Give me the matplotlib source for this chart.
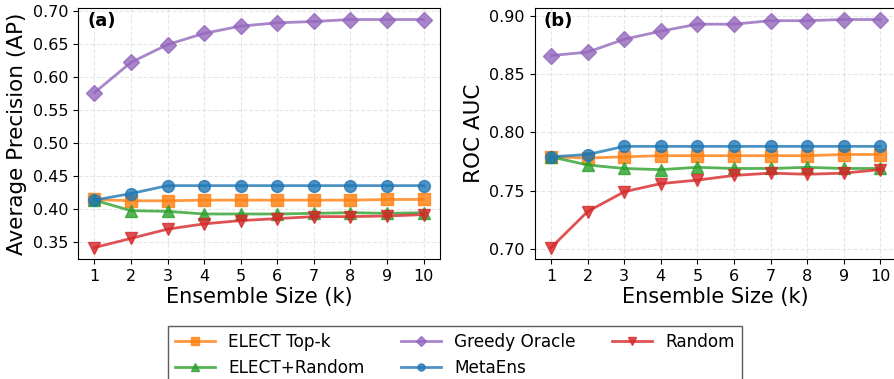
import numpy as np
import matplotlib
matplotlib.use("Agg")
import matplotlib.pyplot as plt
from matplotlib.ticker import MultipleLocator, FormatStrFormatter

k = np.arange(1, 11)

# panel (a): Average Precision
ap_topk = [0.414, 0.412, 0.412, 0.413, 0.413, 0.413, 0.413, 0.413, 0.414, 0.414]
ap_elect_rand = [0.413, 0.397, 0.396, 0.392, 0.392, 0.392, 0.393, 0.394, 0.393, 0.394]
ap_greedy = [0.576, 0.622, 0.649, 0.666, 0.677, 0.682, 0.684, 0.687, 0.687, 0.687]
ap_metaens = [0.413, 0.423, 0.435, 0.435, 0.435, 0.435, 0.435, 0.435, 0.435, 0.435]
ap_random = [0.341, 0.355, 0.369, 0.377, 0.382, 0.385, 0.388, 0.388, 0.389, 0.391]

# panel (b): ROC AUC
auc_topk = [0.779, 0.778, 0.779, 0.780, 0.780, 0.780, 0.780, 0.780, 0.781, 0.781]
auc_elect_rand = [0.779, 0.772, 0.769, 0.768, 0.770, 0.769, 0.769, 0.770, 0.769, 0.769]
auc_greedy = [0.866, 0.869, 0.880, 0.887, 0.893, 0.893, 0.896, 0.896, 0.897, 0.897]
auc_metaens = [0.779, 0.781, 0.788, 0.788, 0.788, 0.788, 0.788, 0.788, 0.788, 0.788]
auc_random = [0.701, 0.732, 0.749, 0.756, 0.759, 0.763, 0.765, 0.764, 0.765, 0.768]

labels = ["ELECT Top-k", "ELECT+Random", "Greedy Oracle", "MetaEns", "Random"]
colors = ["#ff7f0e", "#2ca02c", "#9467bd", "#1f77b4", "#d62728"]
markers = ["s", "^", "D", "o", "v"]

fig = plt.figure(figsize=(8.94, 3.79), dpi=100)
ax_a = fig.add_axes([0.0872, 0.3166, 0.405, 0.662])
ax_b = fig.add_axes([0.598, 0.3166, 0.405, 0.662])

panels = [
    (ax_a, [ap_topk, ap_elect_rand, ap_greedy, ap_metaens, ap_random],
     "Average Precision (AP)", "(a)", 0.05),
    (ax_b, [auc_topk, auc_elect_rand, auc_greedy, auc_metaens, auc_random],
     "ROC AUC", "(b)", 0.05),
]

handles = []
for ax, series, ylabel, tag, step in panels:
    hs = []
    for vals, lab, c, m in zip(series, labels, colors, markers):
        h, = ax.plot(k, vals, color=c, marker=m, markersize=8.5, linewidth=2,
                     alpha=0.8, label=lab)
        hs.append(h)
    handles = hs
    ax.set_xticks(k)
    ax.yaxis.set_major_locator(MultipleLocator(step))
    ax.yaxis.set_major_formatter(FormatStrFormatter("%.2f"))
    ax.set_xlabel("Ensemble Size (k)", fontsize=15, labelpad=2)
    ax.set_ylabel(ylabel, fontsize=15.5)
    ax.tick_params(labelsize=11.5)
    ax.grid(True, linestyle="--", alpha=0.3)
    ax.text(0.025, 0.985, tag, transform=ax.transAxes, fontsize=13,
            fontweight="bold", va="top", ha="left")

fig.legend(handles, labels, loc="upper center", ncol=3, fontsize=12.2,
           bbox_to_anchor=(0.509, 0.162), frameon=True, fancybox=False,
           edgecolor="#333333", handlelength=2.35, columnspacing=2.15,
           markerscale=0.6)

fig.savefig("out.png", dpi=100)
